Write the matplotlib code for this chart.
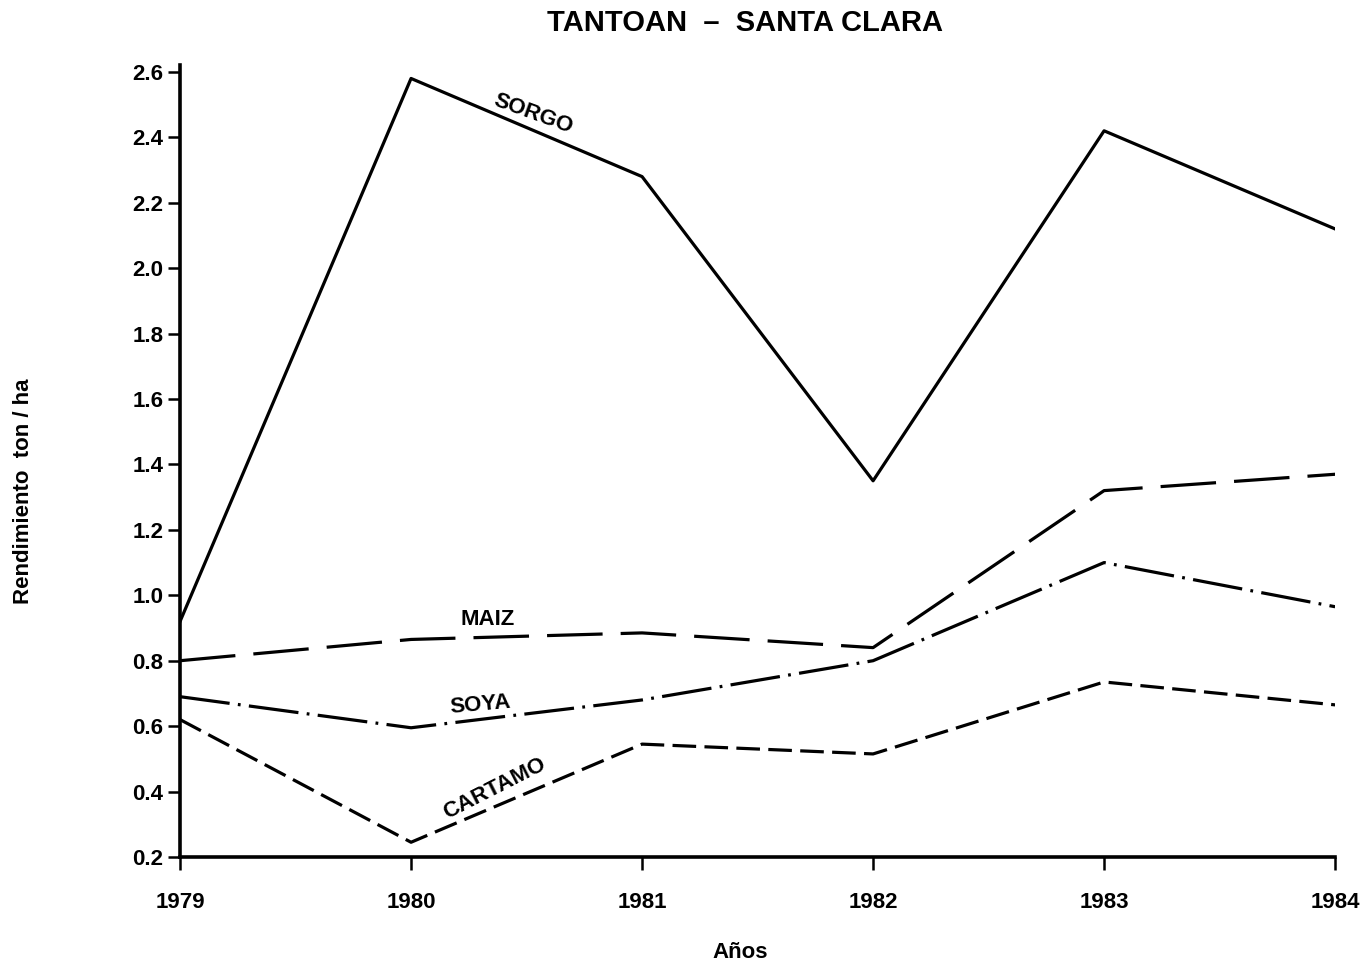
import matplotlib
matplotlib.use("Agg")
import matplotlib.pyplot as plt

plt.rcParams['font.family'] = ['Liberation Sans Narrow', 'Liberation Sans', 'DejaVu Sans']
plt.rcParams['lines.scale_dashes'] = False

years = [1979, 1980, 1981, 1982, 1983, 1984]
sorgo = [0.92, 2.58, 2.28, 1.35, 2.42, 2.12]
maiz = [0.80, 0.865, 0.885, 0.84, 1.32, 1.37]
soya = [0.69, 0.595, 0.68, 0.80, 1.10, 0.965]
cartamo = [0.62, 0.245, 0.545, 0.515, 0.735, 0.665]
yticks = [0.2, 0.4, 0.6, 0.8, 1.0, 1.2, 1.4, 1.6, 1.8, 2.0, 2.2, 2.4, 2.6]
ytick_labels = ["0.2", "0.4", "0.6", "0.8", "1.0", "1.2", "1.4", "1.6", "1.8", "2.0", "2.2", "2.4", "2.6"]

fig = plt.figure(figsize=(13.65, 9.68), dpi=100)
ax = fig.add_axes([0.1319, 0.1147, 0.8462, 0.811])

ax.plot(years, sorgo, color='black', lw=2.3, linestyle='-')
ax.plot(years, maiz, color='black', lw=2.3, linestyle=(0, (40, 13)))
ax.plot(years, soya, color='black', lw=2.3, linestyle=(0, (36, 6, 2, 6)))
ax.plot(years, cartamo, color='black', lw=2.3, linestyle=(0, (17, 6)))

ax.set_xlim(1979, 1984)
ax.set_ylim(0.2, 2.6)
ax.set_xticks(years)
ax.set_xticklabels([str(y) for y in years], fontsize=16, fontweight='bold')
ax.set_yticks(yticks)
ax.set_yticklabels(ytick_labels, fontsize=16, fontweight='bold')
ax.tick_params(axis='both', direction='out', length=9, width=1.8)
ax.tick_params(axis='x', pad=16)
ax.tick_params(axis='y', pad=3)

for s in ['top', 'right']:
    ax.spines[s].set_visible(False)
for s in ['left', 'bottom']:
    ax.spines[s].set_linewidth(2.6)
ax.spines['left'].set_bounds(0.2, 2.62)

txt_kw = dict(fontsize=16, fontweight='bold', ha='center', va='center')
ax.text(1980.53, 2.47, "SORGO", rotation=-20, **txt_kw)
ax.text(1980.33, 0.925, "MAIZ", rotation=0, **txt_kw)
ax.text(1980.30, 0.665, "SOYA", rotation=5, **txt_kw)
ax.text(1980.36, 0.41, "CARTAMO", rotation=27, **txt_kw)

fig.text(0.546, 0.976, "TANTOAN  –  SANTA CLARA", ha='center', va='center',
         fontsize=21, fontweight='bold')
fig.text(0.542, 0.016, "Años", ha='center', va='center', fontsize=16, fontweight='bold')
fig.text(0.017, 0.492, "Rendimiento  ton / ha", ha='center', va='center',
         rotation=90, fontsize=16, fontweight='bold')

fig.savefig("out.png", dpi=100)
